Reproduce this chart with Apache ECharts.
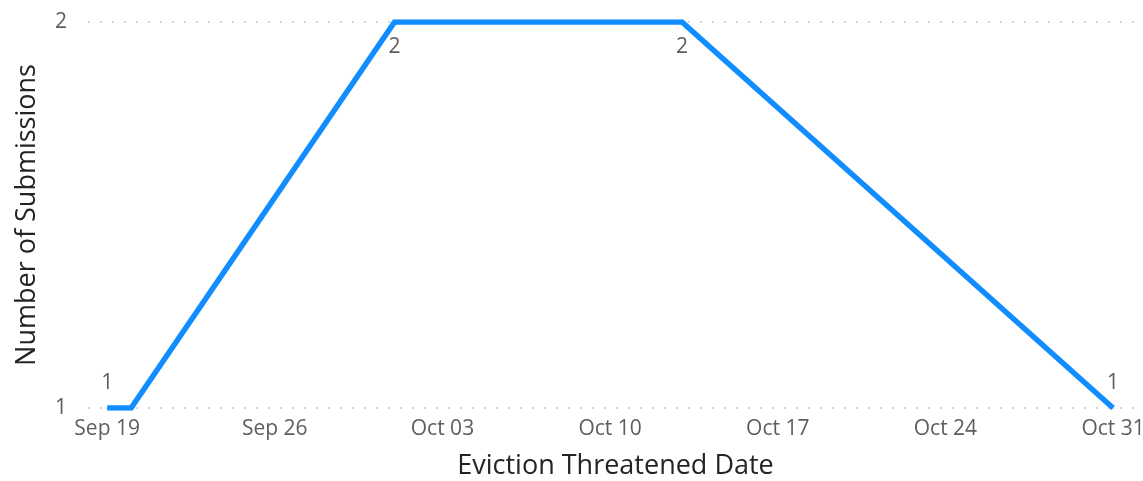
<!DOCTYPE html>
<html>
<head>
<meta charset="utf-8">
<script src="https://cdn.jsdelivr.net/npm/echarts@6/dist/echarts.min.js"></script>
<style>
  html, body { margin: 0; padding: 0; background: #fff; }
  #chart { width: 1143px; height: 481px; }
</style>
</head>
<body>
<div id="chart"></div>
<script>
// submissions per eviction threatened date
const dates = ['2023-09-19', '2023-09-20', '2023-10-01', '2023-10-13', '2023-10-31']
const submissions = [1, 1, 2, 2, 1]
// which points carry a data label, and where
const labelPos = ['top', null, 'bottom', 'bottom', 'top']
const tickDates = ['2023-09-19', '2023-09-26', '2023-10-03', '2023-10-10', '2023-10-17', '2023-10-24', '2023-10-31']
const yTicks = [1, 2]

const DAY = 24 * 3600 * 1000
const months = ['Jan', 'Feb', 'Mar', 'Apr', 'May', 'Jun', 'Jul', 'Aug', 'Sep', 'Oct', 'Nov', 'Dec']
const ts = d => new Date(d + 'T00:00:00Z').getTime()
const base = ts(dates[0])
// x is plotted as days since the first date
const dayOf = d => Math.round((ts(d) - base) / DAY)
const font = '"Open Sans", "Noto Sans", sans-serif'

const chart = echarts.init(document.getElementById('chart'))
chart.setOption({
  animation: false,
  grid: { left: 88, right: 0, top: 22, bottom: 73, outerBoundsMode: 'none' },
  xAxis: {
    type: 'value',
    min: -0.8,
    max: dayOf(dates[dates.length - 1]) + 1.25,
    name: 'Eviction Threatened Date',
    nameLocation: 'middle',
    nameGap: 45,
    nameTextStyle: { color: '#252423', fontSize: 27, fontFamily: font },
    axisLine: { show: false },
    axisTick: { show: false },
    splitLine: { show: false },
    axisLabel: {
      customValues: tickDates.map(dayOf),
      color: '#605E5C',
      fontSize: 21,
      fontFamily: font,
      margin: 11,
      formatter: v => {
        const d = new Date(base + v * DAY)
        return months[d.getUTCMonth()] + ' ' + String(d.getUTCDate()).padStart(2, '0')
      }
    }
  },
  yAxis: {
    type: 'value',
    min: yTicks[0],
    max: yTicks[yTicks.length - 1],
    interval: 1,
    name: 'Number of Submissions',
    nameLocation: 'middle',
    nameGap: 47,
    nameTextStyle: { color: '#252423', fontSize: 27, fontFamily: font },
    axisLine: { show: false },
    axisTick: { show: false },
    axisLabel: { color: '#605E5C', fontSize: 21, fontFamily: font, margin: 21 },
    splitLine: { lineStyle: { color: '#C8C6C4', type: [2, 10], width: 1.5 } }
  },
  series: [{
    type: 'line',
    data: dates.map((d, i) => ({
      value: [dayOf(d), submissions[i]],
      label: labelPos[i] ? { show: true, position: labelPos[i] } : { show: false }
    })),
    showSymbol: true,
    symbol: 'circle',
    symbolSize: 1,
    lineStyle: { color: '#118DFF', width: 5.5, join: 'miter' },
    itemStyle: { color: '#118DFF' },
    label: { color: '#605E5C', fontSize: 21, fontFamily: font, distance: 14 }
  }]
})
</script>
</body>
</html>
